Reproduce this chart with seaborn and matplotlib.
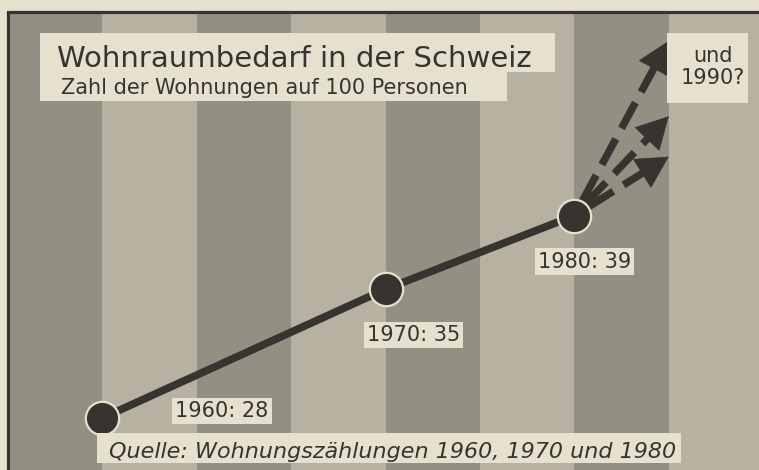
import numpy as np
import matplotlib
matplotlib.use("Agg")
import matplotlib.pyplot as plt
import seaborn as sns
from matplotlib.patches import Rectangle

# census values, flats per 100 persons
years = [1960, 1970, 1980]
flats_per_100 = [28, 35, 39]
columns = [1, 4, 6]            # stripe column each census sits on
outlook_column = 7             # column for 1990
outlook_1990 = [48.5, 44.4, 42.2]   # the three guessed 1990 arrows
point_labels = [f"{y}: {v}" for y, v in zip(years, flats_per_100)]

title = "Wohnraumbedarf in der Schweiz"
subtitle = "Zahl der Wohnungen auf 100 Personen"
question = "und\n1990?"
source = "Quelle: Wohnungszählungen 1960, 1970 und 1980"

paper = "#e6e1ce"
light = "#b6b1a1"
dark = "#929083"
ink = "#37332f"

W, H = 759, 470
def fx(x): return x / W
def fy(y): return 1 - y / H

sns.set_theme(style="white")
plt.rcParams["font.family"] = ["DejaVu Sans"]

fig = plt.figure(figsize=(W / 100, H / 100), dpi=100, facecolor=paper)
ax = fig.add_axes([0, 0, 1, 1])
ax.axis("off")

x0, x1 = -0.085, 7.956
y0, y1 = 25.17, 50.72
frame_top = 50.07
ax.set_xlim(x0, x1)
ax.set_ylim(y0, y1)

# vertical halftone stripes
for i in range(8):
    ax.axvspan(i, i + 1, ymin=0, ymax=(frame_top - y0) / (y1 - y0),
               color=dark if i % 2 == 0 else light, lw=0, zorder=0)
ax.add_patch(Rectangle((0, 20), 9, frame_top - 20, fill=False,
                       ec=ink, lw=2.3, zorder=1))

sns.lineplot(x=columns, y=flats_per_100, ax=ax, color=ink, lw=5.5,
             marker="o", markersize=24, markerfacecolor=ink,
             markeredgecolor=paper, markeredgewidth=1.6, zorder=5)
ax.set_xlim(x0, x1)
ax.set_ylim(y0, y1)

# dashed "1990?" arrows: dashed shaft + solid head
start = (columns[-1], flats_per_100[-1])
head_len = 22  # points
for v in outlook_1990:
    tip = (outlook_column, v)
    a, b = ax.transData.transform([start, tip])
    length_pt = np.hypot(*(b - a)) * 72 / fig.dpi
    ax.annotate("", xy=tip, xytext=start,
                arrowprops=dict(arrowstyle="-", lw=5.4, color=ink, capstyle="butt",
                                linestyle=(0, (3.9, 1.6)), shrinkA=12,
                                shrinkB=head_len - 4),
                zorder=4)
    ax.annotate("", xy=tip, xytext=start,
                arrowprops=dict(arrowstyle="-|>,head_length=0.5,head_width=0.27",
                                lw=0.5, color=ink, shrinkA=length_pt - 2, shrinkB=0,
                                mutation_scale=head_len / 0.5),
                zorder=4)

offsets = [(86, 0.7), (20, -37.4), (7.2, -37.4)]
for c, v, lab, off in zip(columns, flats_per_100, point_labels, offsets):
    ax.annotate(lab, xy=(c, v), xytext=off, textcoords="offset points",
                ha="center", va="baseline", fontsize=15, color=ink, zorder=6,
                bbox=dict(boxstyle="square,pad=0.15", fc=paper, ec="none"))

# title panel
fig.add_artist(Rectangle((fx(40), fy(72)), fx(555) - fx(40), fy(33) - fy(72),
                         transform=fig.transFigure, fc=paper, ec="none", zorder=2))
fig.add_artist(Rectangle((fx(40), fy(101)), fx(507) - fx(40), fy(72) - fy(101),
                         transform=fig.transFigure, fc=paper, ec="none", zorder=2))
fig.text(fx(57), fy(67), title, fontsize=21, color=ink, ha="left", va="baseline", zorder=3)
fig.text(fx(61), fy(94), subtitle, fontsize=15, color=ink, ha="left", va="baseline", zorder=3)

# 1990 question
fig.add_artist(Rectangle((fx(667), fy(103)), fx(748) - fx(667), fy(33) - fy(103),
                         transform=fig.transFigure, fc=paper, ec="none", zorder=2))
fig.text(fx(713), fy(67), question, fontsize=15, color=ink, ha="center", va="center",
         multialignment="center", linespacing=1.15, zorder=3)

# source
fig.add_artist(Rectangle((fx(97), fy(463)), fx(681) - fx(97), fy(433) - fy(463),
                         transform=fig.transFigure, fc=paper, ec="none", zorder=2))
fig.text(fx(109), fy(458), source, fontsize=16, style="italic", color=ink,
         ha="left", va="baseline", zorder=3)

fig.savefig("out.png", dpi=100, facecolor=paper)
